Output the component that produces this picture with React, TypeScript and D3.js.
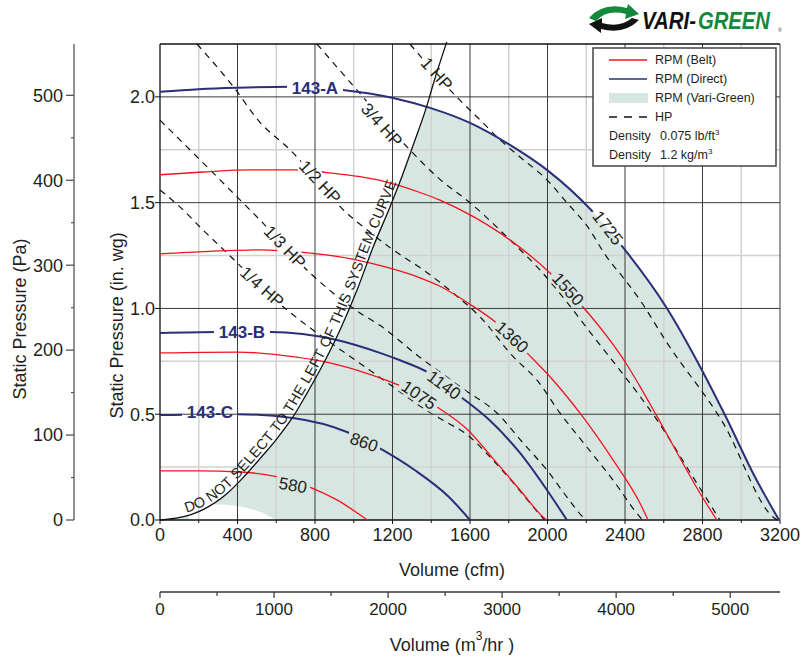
import React from "react";
import * as d3 from "d3";

type P = [number, number];

// ---------- axis ticks ----------
const cfmTicks = [0, 400, 800, 1200, 1600, 2000, 2400, 2800, 3200];
const cfmMinor = [200, 600, 1000, 1400, 1800, 2200, 2600, 3000];
const inwgTicks = [0, 0.5, 1.0, 1.5, 2.0];
const inwgMinor = [0.25, 0.75, 1.25, 1.75];
const paTicks = [0, 100, 200, 300, 400, 500];
const paMinor = [50, 150, 250, 350, 450];
const m3Ticks = [0, 1000, 2000, 3000, 4000, 5000];
const m3Minor = [500, 1500, 2500, 3500, 4500];

const PA_PER_INWG = 249.089;
const M3HR_PER_CFM = 1.699;

// ---------- fan curves (cfm, in. wg) ----------
const rpm1725: P[] = [[0, 2.024], [200, 2.036], [397, 2.043], [671, 2.048], [944, 2.033], [1203, 1.995], [1394, 1.948], [1600, 1.877], [1806, 1.773], [1997, 1.655], [2235, 1.456], [2400, 1.277], [2617, 1.0], [2802, 0.7], [2916, 0.496], [3071, 0.203], [3195, 0]];
const rpm1550: P[] = [[0, 1.632], [222, 1.645], [465, 1.655], [707, 1.655], [862, 1.642], [1135, 1.605], [1342, 1.548], [1445, 1.512], [1615, 1.435], [1806, 1.324], [2013, 1.168], [2183, 1.007], [2338, 0.83], [2400, 0.748], [2477, 0.632], [2565, 0.49], [2802, 0.104], [2874, 0]];
const rpm1360: P[] = [[0, 1.258], [250, 1.27], [516, 1.277], [740, 1.265], [1000, 1.232], [1187, 1.19], [1342, 1.145], [1445, 1.105], [1600, 1.02], [1739, 0.93], [1894, 0.79], [2028, 0.662], [2167, 0.506], [2338, 0.284], [2477, 0.08], [2519, 0]];
const rpm1140: P[] = [[0, 0.884], [294, 0.889], [568, 0.889], [913, 0.851], [1135, 0.79], [1239, 0.755], [1378, 0.7], [1548, 0.585], [1703, 0.47], [1858, 0.317], [1997, 0.142], [2100, 0]];
const rpm1075: P[] = [[0, 0.79], [400, 0.794], [686, 0.772], [913, 0.735], [1135, 0.672], [1239, 0.635], [1430, 0.534], [1584, 0.43], [1719, 0.29], [1858, 0.142], [1977, 0.014], [1995, 0]];
const rpm860: P[] = [[0, 0.496], [400, 0.5], [686, 0.482], [965, 0.416], [1151, 0.33], [1316, 0.235], [1490, 0.11], [1600, 0]];
const rpm580: P[] = [[0, 0.232], [200, 0.232], [413, 0.227], [600, 0.205], [785, 0.151], [913, 0.095], [1070, 0]];

// ---------- system curve & Vari-Green lower boundary ----------
const systemCurve: P[] = [[0, 0], [103, 0.012], [206, 0.042], [346, 0.125], [413, 0.185], [516, 0.29], [604, 0.385], [686, 0.487], [759, 0.6], [826, 0.709], [929, 0.898], [1017, 1.087], [1100, 1.29], [1187, 1.48], [1239, 1.6], [1306, 1.77], [1378, 1.96], [1410, 2.06], [1480, 2.26]];
const greenLowEdge: P[] = [[150, 0.07], [200, 0.072], [300, 0.073], [400, 0.066], [480, 0.05], [550, 0.025], [600, 0]];

// ---------- HP lines ----------
const hp1: P[] = [[1290, 2.25], [1531, 2.0], [1652, 1.891], [1755, 1.797], [1858, 1.716], [1997, 1.608], [2100, 1.5], [2204, 1.39], [2306, 1.243], [2400, 1.135], [2477, 1.04], [2617, 0.837], [2906, 0.459], [3164, 0.014], [3185, 0]];
const hp34: P[] = [[810, 2.25], [1016, 2.033], [1290, 1.749], [1445, 1.61], [1600, 1.5], [1806, 1.324], [1961, 1.182], [2100, 1.03], [2235, 0.87], [2338, 0.75], [2477, 0.585], [2565, 0.473], [2751, 0.203], [2890, 0]];
const hp12: P[] = [[191, 2.25], [377, 2.05], [516, 1.88], [671, 1.75], [965, 1.45], [1084, 1.36], [1203, 1.277], [1359, 1.182], [1513, 1.073], [1652, 0.96], [1824, 0.771], [1945, 0.662], [2064, 0.506], [2203, 0.345], [2338, 0.189], [2460, 0.033], [2490, 0]];
const hp13: P[] = [[0, 1.89], [310, 1.608], [413, 1.513], [516, 1.418], [774, 1.168], [893, 1.073], [1032, 0.979], [1135, 0.92], [1326, 0.78], [1564, 0.62], [1739, 0.506], [1874, 0.364], [1997, 0.236], [2100, 0.109], [2183, 0.014], [2200, 0]];
const hp14: P[] = [[0, 1.56], [103, 1.48], [222, 1.371], [346, 1.262], [655, 0.993], [790, 0.898], [893, 0.83], [1048, 0.73], [1187, 0.64], [1357, 0.53], [1445, 0.48], [1600, 0.392], [1703, 0.298], [1824, 0.175], [1927, 0.061], [1985, 0]];

// ---------- labels ----------
const rpmLabelText = ["1725", "1550", "1360", "1140", "1075", "860", "580"];
const rpmLabelCfm = [2312, 2106, 1817, 1466, 1337, 1053, 686];
const rpmLabelInwg = [1.381, 1.092, 0.865, 0.638, 0.591, 0.368, 0.165];
const rpmLabelAngle = [52, 48, 42, 36, 34, 20, 10];

const modelLabelText = ["143-A", "143-B", "143-C"];
const modelLabelCfm = [800, 423, 258];
const modelLabelInwg = [2.043, 0.889, 0.51];

const hpLabelText = ["1 HP", "3/4 HP", "1/2 HP", "1/3 HP", "1/4 HP"];
const hpLabelCfm = [1429, 1145, 826, 645, 527];
const hpLabelInwg = [2.109, 1.868, 1.598, 1.291, 1.102];
const hpLabelAngle = [48, 48, 47, 46, 42];

const systemCurveText = "DO NOT SELECT TO THE LEFT OF THIS SYSTEM CURVE";

const RED = "#f0141e";
const NAVY = "#2b2e78";
const FILL = "#d7e6e0";
const TXT = "#231f20";
const FONT = "'Liberation Sans', Arial, Helvetica, sans-serif";

export default function App() {
  const W = 811, H = 657;
  const x = d3.scaleLinear().domain([0, 3200]).range([160, 780]);
  const y = d3.scaleLinear().domain([0, 2.25]).range([520, 44]);
  const yPa = d3.scaleLinear().domain([0, 2.25 * PA_PER_INWG]).range([520, 44]);
  const xM3 = d3.scaleLinear().domain([0, 3200 * M3HR_PER_CFM]).range([160, 780]);

  const line = d3.line<P>().x((d) => x(d[0])).y((d) => y(d[1])).curve(d3.curveMonotoneX);
  const area = d3.area<P>().x((d) => x(d[0])).y0(y(0)).y1((d) => y(d[1])).curve(d3.curveMonotoneX);

  const clipD = (line(systemCurve) as string) +
    ` L ${x(3400)} ${y(2.26)} L ${x(3400)} ${y(-0.2)} L ${x(0)} ${y(-0.2)} Z`;

  const beltCurves = [rpm1550, rpm1360, rpm1075, rpm580];
  const directCurves = [rpm1725, rpm1140, rpm860];
  const hpCurves = [hp1, hp34, hp12, hp13, hp14];

  const digitW = 9.5;
  const holes: { cx: number; cy: number; w: number; h: number; a: number }[] = [];
  rpmLabelText.forEach((t, i) => holes.push({ cx: x(rpmLabelCfm[i]), cy: y(rpmLabelInwg[i]), w: t.length * digitW + 6, h: 16, a: rpmLabelAngle[i] }));
  modelLabelText.forEach((t, i) => holes.push({ cx: x(modelLabelCfm[i]), cy: y(modelLabelInwg[i]), w: 56, h: 16, a: 0 }));
  hpLabelText.forEach((t, i) => holes.push({ cx: x(hpLabelCfm[i]), cy: y(hpLabelInwg[i]), w: t.length * 8.6 + 4, h: 16, a: hpLabelAngle[i] }));

  const legendX = 593, legendY = 48;
  const rowY = [60, 79, 98, 117, 136, 155];

  return (
    <svg width={W} height={H} viewBox={`0 0 ${W} ${H}`} style={{ position: "absolute", left: 0, top: 0, background: "#fff" }} fontFamily={FONT}>
      <defs>
        <clipPath id="rightOfSystem">
          <path d={clipD} />
        </clipPath>
        <mask id="labelGaps" maskUnits="userSpaceOnUse" x={0} y={0} width={W} height={H}>
          <rect x={0} y={0} width={W} height={H} fill="white" />
          {holes.map((h, i) => (
            <rect key={i} x={-h.w / 2} y={-h.h / 2} width={h.w} height={h.h} fill="black"
              transform={`translate(${h.cx},${h.cy}) rotate(${h.a})`} />
          ))}
        </mask>
      </defs>

      {/* Vari-Green region */}
      <path d={area(rpm1725) as string} fill={FILL} clipPath="url(#rightOfSystem)" />
      <path d={area(greenLowEdge) as string} fill="#fff" />

      {/* grid */}
      {cfmMinor.map((v) => <line key={"vm" + v} x1={x(v)} x2={x(v)} y1={y(0)} y2={y(2.25)} stroke="#d2d2d2" strokeWidth={1.5} />)}
      {inwgMinor.map((v) => <line key={"hm" + v} x1={x(0)} x2={x(3200)} y1={y(v)} y2={y(v)} stroke="#d2d2d2" strokeWidth={1.5} />)}
      {cfmTicks.slice(1).map((v) => <line key={"vM" + v} x1={x(v)} x2={x(v)} y1={y(0)} y2={y(2.25)} stroke="#3a3a3a" strokeWidth={1} />)}
      {inwgTicks.slice(1).map((v) => <line key={"hM" + v} x1={x(0)} x2={x(3200)} y1={y(v)} y2={y(v)} stroke="#3a3a3a" strokeWidth={1} />)}
      <line x1={x(0)} x2={x(3200)} y1={y(2.25)} y2={y(2.25)} stroke="#111" strokeWidth={1.3} />
      <line x1={x(0)} x2={x(0)} y1={y(0)} y2={y(2.25)} stroke="#111" strokeWidth={1.3} />
      <line x1={x(0)} x2={x(3200)} y1={y(0)} y2={y(0)} stroke="#111" strokeWidth={1.3} />

      {/* curves with label gaps */}
      <g mask="url(#labelGaps)" fill="none">
        {hpCurves.map((c, i) => <path key={"hp" + i} d={line(c) as string} stroke="#111" strokeWidth={1.2} strokeDasharray="6.5,5.5" />)}
        {beltCurves.map((c, i) => <path key={"b" + i} d={line(c) as string} stroke={RED} strokeWidth={1.3} />)}
        {directCurves.map((c, i) => <path key={"d" + i} d={line(c) as string} stroke={NAVY} strokeWidth={2} />)}
      </g>

      {/* system curve */}
      <path id="sysCurve" d={line(systemCurve) as string} fill="none" stroke="#111" strokeWidth={1.3} />
      <text fontSize={14.5} fill={TXT} dy={-3}>
        <textPath href="#sysCurve" startOffset={28} textLength={404} lengthAdjust="spacing">{systemCurveText}</textPath>
      </text>

      {/* curve labels */}
      {rpmLabelText.map((t, i) => (
        <text key={"rl" + t} fontSize={17} fill={TXT} textAnchor="middle" dy="0.35em"
          transform={`translate(${x(rpmLabelCfm[i])},${y(rpmLabelInwg[i])}) rotate(${rpmLabelAngle[i]})`}>{t}</text>
      ))}
      {modelLabelText.map((t, i) => (
        <text key={"ml" + t} fontSize={17} fontWeight="bold" fill={NAVY} textAnchor="middle" dy="0.35em"
          x={x(modelLabelCfm[i])} y={y(modelLabelInwg[i])}>{t}</text>
      ))}
      {hpLabelText.map((t, i) => (
        <text key={"hl" + t} fontSize={17} fill={TXT} textAnchor="middle" dy="0.35em"
          transform={`translate(${x(hpLabelCfm[i])},${y(hpLabelInwg[i])}) rotate(${hpLabelAngle[i]})`}>{t}</text>
      ))}

      {/* in. wg axis */}
      {inwgTicks.map((v) => (
        <g key={"yt" + v}>
          <line x1={x(0) - 5} x2={x(0)} y1={y(v)} y2={y(v)} stroke="#111" />
          <text x={x(0) - 5} y={y(v)} dy="0.35em" textAnchor="end" fontSize={18} fill={TXT}>{v.toFixed(1)}</text>
        </g>
      ))}
      <text transform={`translate(117,${y(0.92)}) rotate(-90)`} textAnchor="middle" fontSize={18} fill={TXT} dy="0.35em">Static Pressure (in. wg)</text>

      {/* Pa axis */}
      <line x1={74} x2={74} y1={yPa(0)} y2={44} stroke="#555" strokeWidth={1.3} />
      {paTicks.map((v) => (
        <g key={"pa" + v}>
          <line x1={66} x2={74} y1={yPa(v)} y2={yPa(v)} stroke="#555" strokeWidth={1.3} />
          <text x={63} y={yPa(v)} dy="0.35em" textAnchor="end" fontSize={18} fill={TXT}>{v}</text>
        </g>
      ))}
      {paMinor.map((v) => <line key={"pam" + v} x1={71} x2={74} y1={yPa(v)} y2={yPa(v)} stroke="#555" strokeWidth={1.2} />)}
      <text transform={`translate(20,${y(0.95)}) rotate(-90)`} textAnchor="middle" fontSize={18} fill={TXT} dy="0.35em">Static Pressure (Pa)</text>

      {/* cfm axis */}
      {cfmMinor.map((v) => <line key={"xm" + v} x1={x(v)} x2={x(v)} y1={y(0)} y2={y(0) + 3} stroke="#111" />)}
      {cfmTicks.map((v) => (
        <g key={"xt" + v}>
          <line x1={x(v)} x2={x(v)} y1={y(0)} y2={y(0) + 4} stroke="#111" />
          <text x={x(v)} y={541} textAnchor="middle" fontSize={18} fill={TXT}>{v}</text>
        </g>
      ))}
      <text x={452} y={576} textAnchor="middle" fontSize={18} fill={TXT}>Volume (cfm)</text>

      {/* m3/hr axis */}
      <line x1={xM3(0)} x2={xM3(3200 * M3HR_PER_CFM)} y1={592} y2={592} stroke="#333" strokeWidth={1.5} />
      {m3Ticks.map((v) => (
        <g key={"m3" + v}>
          <line x1={xM3(v)} x2={xM3(v)} y1={592} y2={598} stroke="#333" strokeWidth={1.2} />
          <text x={xM3(v)} y={615} textAnchor="middle" fontSize={17} fill={TXT}>{v}</text>
        </g>
      ))}
      {m3Minor.map((v) => <line key={"m3m" + v} x1={xM3(v)} x2={xM3(v)} y1={592} y2={596} stroke="#333" strokeWidth={1.2} />)}
      <text x={452} y={651} textAnchor="middle" fontSize={18} fill={TXT}>
        Volume (m<tspan dy={-11} fontSize={12}>3</tspan><tspan dy={11}>/hr )</tspan>
      </text>

      {/* legend */}
      <rect x={legendX} y={legendY} width={183} height={118} fill="#fff" stroke="#444" strokeWidth={1.5} />
      <line x1={609} x2={647} y1={rowY[0]} y2={rowY[0]} stroke={RED} strokeWidth={1.3} />
      <line x1={609} x2={647} y1={rowY[1]} y2={rowY[1]} stroke={NAVY} strokeWidth={1.3} />
      <rect x={609} y={rowY[2] - 5} width={39} height={10} fill={FILL} />
      <line x1={609} x2={648} y1={rowY[3]} y2={rowY[3]} stroke="#111" strokeWidth={1.3} strokeDasharray="8,7" />
      <g fontSize={12.5} fill={TXT}>
        <text x={655} y={rowY[0]} dy="0.35em">RPM (Belt)</text>
        <text x={655} y={rowY[1]} dy="0.35em">RPM (Direct)</text>
        <text x={655} y={rowY[2]} dy="0.35em">RPM (Vari-Green)</text>
        <text x={655} y={rowY[3]} dy="0.35em">HP</text>
        <text x={609} y={rowY[4]} dy="0.35em">Density</text>
        <text x={660} y={rowY[4]} dy="0.35em">0.075 lb/ft<tspan dy={-5} fontSize={8}>3</tspan></text>
        <text x={609} y={rowY[5]} dy="0.35em">Density</text>
        <text x={660} y={rowY[5]} dy="0.35em">1.2 kg/m<tspan dy={-5} fontSize={8}>3</tspan></text>
      </g>

      {/* logo */}
      <g>
        <path d="M589,18 Q603,2 627,8 L628,4 L639,14 L625,19 L626,14 Q607,9 596,21 Z" fill="#13893c" />
        <path d="M639,20 Q624,35 601,29 L601,33 L589,24 L602,18 L602,23 Q620,28 632,18 Z" fill="#111" />
        <text x={642} y={29} fontSize={23.5} fontWeight="bold" fontStyle="italic" fill="#111" textLength={54} lengthAdjust="spacingAndGlyphs">VARI-</text>
        <text x={698} y={29} fontSize={23.5} fontWeight="bold" fontStyle="italic" fill="#13893c" textLength={72} lengthAdjust="spacingAndGlyphs">GREEN</text>
        <text x={778} y={32} fontSize={5} fill="#333">®</text>
      </g>
    </svg>
  );
}
